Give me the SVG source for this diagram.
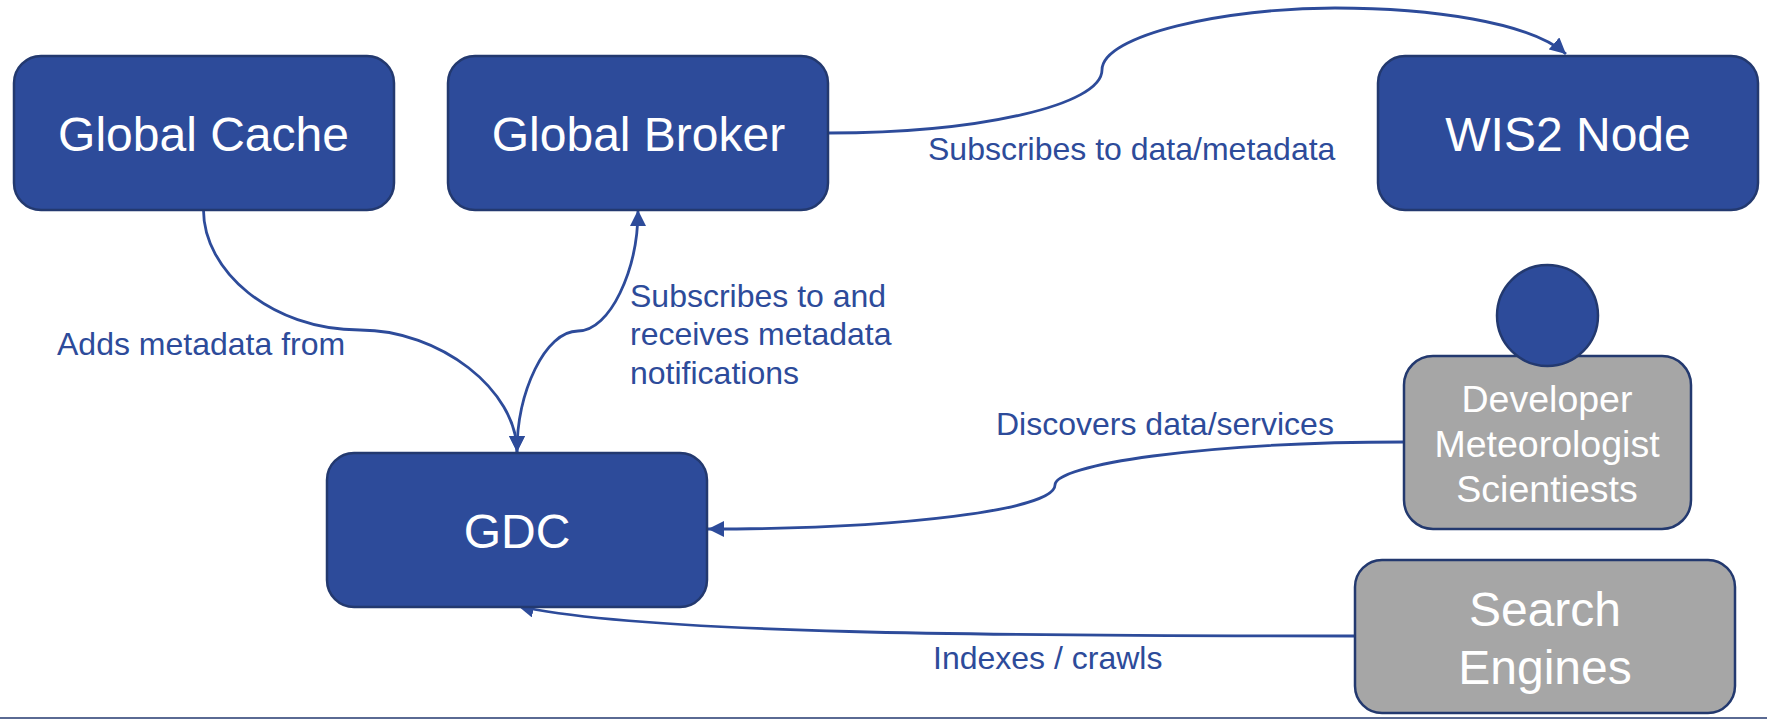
<svg xmlns="http://www.w3.org/2000/svg" width="1767" height="719" viewBox="0 0 1767 719">
<style>
text{font-family:"Liberation Sans",Arial,sans-serif}
.b{fill:#2d4b9a;stroke:#23396f;stroke-width:2.5}
.g{fill:#a6a6a6;stroke:#23396f;stroke-width:2.5}
.t{fill:#fff;font-size:48px;text-anchor:middle}
.s{fill:#fff;font-size:37.500px;text-anchor:middle}
.l{fill:#2d4b9a;font-size:32px}
.c{fill:none;stroke:#2d4b9a;stroke-width:2.800}
.e{marker-end:url(#a)}
.st{marker-start:url(#a)}
</style>
<defs>
<marker id="a" viewBox="0 0 16 16" refX="16" refY="8" markerWidth="16" markerHeight="16" markerUnits="userSpaceOnUse" orient="auto-start-reverse"><path d="M0,0L16,8L0,16z" fill="#2d4b9a"/></marker>
</defs>
<rect width="1767" height="719" fill="#fff"/>
<path d="M0,718H1767" stroke="#23396f" stroke-width="1.500"/>
<g id="connectors">
<path class="c e" d="M829,133C980,133 1102,105 1102,70C1102,35 1225,8 1335,8C1430,8 1530,22 1566,54"/>
<path class="c e" d="M203.500,210C203.500,270 270,330 360,330C440,330 517,390 517,452"/>
<path class="c e st" d="M517,452C517,392 545,331 578,331C610,331 638,270 638,210"/>
<path class="c e" d="M1404,442C1200,442 1055,465 1055,485C1055,510 900,529 708,529"/>
<path class="c e" d="M1355,636C1000,636 640,634 518,606"/>
</g>
<g id="global-cache"><rect class="b" x="14" y="56" width="380" height="154" rx="27"/><text class="t" x="203.500" y="151">Global Cache</text></g>
<g id="global-broker"><rect class="b" x="448" y="56" width="380" height="154" rx="27"/><text class="t" x="638.500" y="151">Global Broker</text></g>
<g id="wis2-node"><rect class="b" x="1378" y="56" width="380" height="154" rx="27"/><text class="t" x="1568" y="151">WIS2 Node</text></g>
<g id="gdc"><rect class="b" x="327" y="453" width="380" height="154" rx="27"/><text class="t" x="517" y="548">GDC</text></g>
<g id="users"><rect class="g" x="1404" y="356" width="287" height="173" rx="29"/><circle class="b" cx="1547.500" cy="315.500" r="50.500"/><text class="s" x="1547" y="412">Developer</text><text class="s" x="1547" y="457">Meteorologist</text><text class="s" x="1547" y="502">Scientiests</text></g>
<g id="search-engines"><rect class="g" x="1355" y="560" width="380" height="153" rx="27"/><text class="t" x="1545" y="626">Search</text><text class="t" x="1545" y="684">Engines</text></g>
<g id="labels">
<text class="l" x="928" y="160">Subscribes to data/metadata</text>
<text class="l" x="630" y="307">Subscribes to and</text>
<text class="l" x="630" y="345">receives metadata</text>
<text class="l" x="630" y="384">notifications</text>
<text class="l" x="57" y="355">Adds metadata from</text>
<text class="l" x="996" y="435">Discovers data/services</text>
<text class="l" x="933" y="669">Indexes / crawls</text>
</g>
</svg>
